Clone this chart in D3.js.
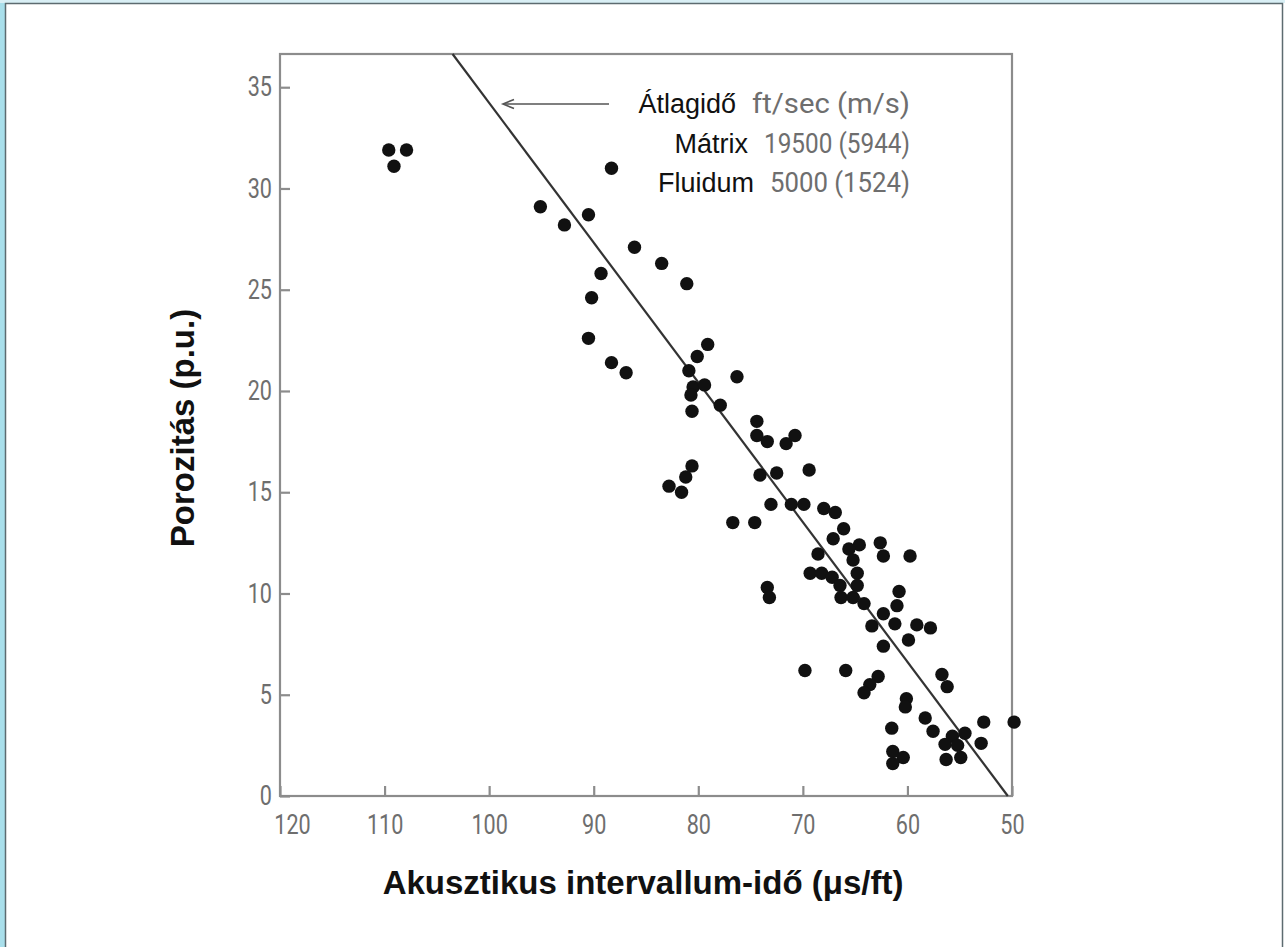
<!DOCTYPE html>
<html>
<head>
<meta charset="utf-8">
<script src="https://cdn.jsdelivr.net/npm/d3@7"></script>
<style>
  body { margin: 0; background: #fff; }
  svg { display: block; }
</style>
</head>
<body>
<svg id="chart" width="1285" height="947"></svg>
<script>
// acoustic interval time (us/ft) and porosity (p.u.)
var dtValues = [109.6, 107.9, 109.1, 95.1, 92.8, 90.5, 88.3, 86.1, 83.5, 81.1,
    89.3, 90.2, 90.5, 88.3, 86.9, 79.1, 80.1, 80.9, 80.5, 79.4,
    80.7, 80.6, 77.9, 76.3, 74.4, 74.4, 73.4, 71.6, 70.75, 80.6,
    81.2, 82.8, 81.6, 74.1, 72.5, 69.4, 73.05, 71.1, 69.9, 68.0,
    66.9, 76.7, 74.6, 66.1, 67.1, 64.6, 65.6, 62.6, 62.3, 59.75,
    68.55, 65.2, 69.3, 68.2, 67.2, 66.45, 64.8, 64.8, 73.4, 73.2,
    66.35, 65.2, 64.15, 60.8, 61.0, 62.3, 63.4, 61.2, 59.1, 57.8,
    59.9, 62.3, 69.8, 65.9, 62.8, 63.6, 64.15, 56.7, 56.2, 60.1,
    60.2, 58.3, 57.55, 61.5, 52.7, 49.8, 54.5, 55.7, 56.4, 55.2,
    52.95, 61.4, 60.4, 61.4, 56.3, 54.9];
var phiValues = [31.9, 31.9, 31.1, 29.1, 28.2, 28.7, 31.0, 27.1, 26.3, 25.3,
    25.8, 24.6, 22.6, 21.4, 20.9, 22.3, 21.7, 21.0, 20.2, 20.3,
    19.8, 19.0, 19.3, 20.7, 18.5, 17.8, 17.5, 17.4, 17.8, 16.3,
    15.75, 15.3, 15.0, 15.85, 15.95, 16.1, 14.4, 14.4, 14.4, 14.2,
    14.0, 13.5, 13.5, 13.2, 12.7, 12.4, 12.2, 12.5, 11.85, 11.85,
    11.95, 11.65, 11.0, 11.0, 10.8, 10.4, 11.0, 10.4, 10.3, 9.8,
    9.8, 9.8, 9.5, 10.1, 9.4, 9.0, 8.4, 8.5, 8.45, 8.3,
    7.7, 7.4, 6.2, 6.2, 5.9, 5.5, 5.1, 6.0, 5.4, 4.8,
    4.4, 3.85, 3.2, 3.35, 3.65, 3.65, 3.1, 2.95, 2.55, 2.5,
    2.6, 2.2, 1.9, 1.6, 1.8, 1.9];

// time-average line
var lineDt = [103.5, 50.4];
var linePhi = [36.64, 0];

var xTicks = [120, 110, 100, 90, 80, 70, 60, 50];
var yTicks = [0, 5, 10, 15, 20, 25, 30, 35];

var legendLabels = ["Átlagidő", "Mátrix", "Fluidum"];
var legendValues = ["ft/sec (m/s)", "19500 (5944)", "5000 (1524)"];

var xTitle = "Akusztikus intervallum-idő (μs/ft)";
var yTitle = "Porozitás (p.u.)";

var cond = "Roboto, 'Liberation Sans', sans-serif";
var arial = "'Liberation Sans', Arial, sans-serif";
var squeeze = 0.8; // fake a condensed face

var svg = d3.select("#chart");

// slide frame
svg.append("rect").attr("x", 0).attr("y", 0).attr("width", 5).attr("height", 947).attr("fill", "#a9dfeb");
svg.append("rect").attr("x", 0).attr("y", 0).attr("width", 1285).attr("height", 3).attr("fill", "#d9eff5");
svg.append("rect")
    .attr("x", 5.5).attr("y", 3.5)
    .attr("width", 1277).attr("height", 960)
    .attr("fill", "#fff")
    .attr("stroke", "#5d6b70").attr("stroke-width", 1.5);

var x = d3.scaleLinear().domain([120, 50]).range([280, 1012]);
var y = d3.scaleLinear().domain([0, 36.64]).range([796, 54]);

var axisColor = "#8c8c8c";
var labelColor = "#6e6e6e";

// plot box
svg.append("rect")
    .attr("x", x(120)).attr("y", y(36.64))
    .attr("width", x(50) - x(120)).attr("height", y(0) - y(36.64))
    .attr("fill", "none")
    .attr("stroke", axisColor)
    .attr("stroke-width", 2.2);

var yAxis = svg.append("g")
    .attr("transform", `translate(${x(120)},0)`)
    .call(d3.axisRight(y).tickValues(yTicks).tickSize(10).tickFormat(d3.format("d")));
yAxis.select(".domain").remove();
yAxis.selectAll(".tick line").attr("stroke", axisColor).attr("stroke-width", 2.2);
yAxis.selectAll(".tick text")
    .attr("x", -8 / squeeze)
    .attr("text-anchor", "end")
    .attr("transform", `scale(${squeeze},1)`)
    .attr("fill", labelColor)
    .style("font-family", cond)
    .style("font-size", "27px");

var xAxis = svg.append("g")
    .attr("transform", `translate(0,${y(0)})`)
    .call(d3.axisTop(x).tickValues(xTicks).tickSize(10).tickFormat(d3.format("d")));
xAxis.select(".domain").remove();
xAxis.selectAll(".tick line").attr("stroke", axisColor).attr("stroke-width", 2.2);
xAxis.selectAll(".tick text")
    .attr("y", 29)
    .attr("dy", "0.35em")
    .attr("x", d => d == 120 ? 12 / squeeze : 0)
    .attr("transform", `scale(${squeeze},1)`)
    .attr("fill", labelColor)
    .style("font-family", cond)
    .style("font-size", "27px");

// line
var lineData = lineDt.map((d, i) => [d, linePhi[i]]);
svg.append("path")
    .datum(lineData)
    .attr("d", d3.line().x(d => x(d[0])).y(d => y(d[1])))
    .attr("fill", "none")
    .attr("stroke", "#333")
    .attr("stroke-width", 2.2);

// points
svg.selectAll(".dot")
    .data(dtValues.map((d, i) => [d, phiValues[i]]))
    .enter().append("circle")
    .attr("class", "dot")
    .attr("cx", d => x(d[0]))
    .attr("cy", d => y(d[1]))
    .attr("r", 6.7)
    .attr("fill", "#111");

// arrow to the line
svg.append("line")
    .attr("x1", 609).attr("y1", 104).attr("x2", 504).attr("y2", 104)
    .attr("stroke", "#555").attr("stroke-width", 1.6);
svg.append("path")
    .attr("d", "M514,99.5L503,104L514,108.5")
    .attr("fill", "none").attr("stroke", "#555").attr("stroke-width", 1.6);

// legend text: grey condensed value right aligned, black label before it
var valueWidths = [158, 146, 140];
legendLabels.forEach(function(lab, i) {
    var yy = 113 + i * 39.5;
    svg.append("text")
        .attr("x", 910)
        .attr("y", yy)
        .attr("text-anchor", "end")
        .attr("textLength", valueWidths[i])
        .attr("lengthAdjust", "spacingAndGlyphs")
        .attr("fill", labelColor)
        .style("font-family", cond)
        .style("font-size", "27px")
        .text(legendValues[i]);
    svg.append("text")
        .attr("x", 910 - valueWidths[i] - 16)
        .attr("y", yy)
        .attr("text-anchor", "end")
        .attr("fill", "#111")
        .style("font-family", arial)
        .style("font-size", "27px")
        .text(lab);
});

// axis titles
svg.append("text")
    .attr("x", 643).attr("y", 894)
    .attr("text-anchor", "middle")
    .style("font-family", arial)
    .style("font-weight", "bold")
    .style("font-size", "33px")
    .attr("fill", "#111")
    .text(xTitle);

svg.append("text")
    .attr("transform", "translate(194,428) rotate(-90)")
    .attr("text-anchor", "middle")
    .style("font-family", arial)
    .style("font-weight", "bold")
    .style("font-size", "33px")
    .attr("fill", "#111")
    .text(yTitle);
</script>
</body>
</html>
